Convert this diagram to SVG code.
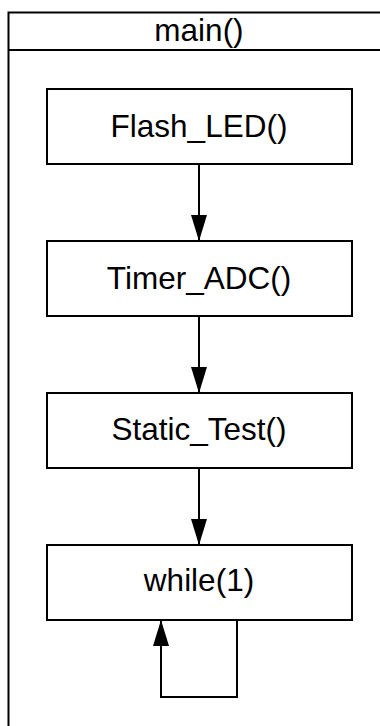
<svg xmlns="http://www.w3.org/2000/svg" width="380" height="726" viewBox="0 0 380 726">
  <style>
    .frame { fill: #ffffff; stroke: #000000; stroke-width: 2; }
    .box { fill: #ffffff; stroke: #000000; stroke-width: 2; }
    .edge { fill: none; stroke: #000000; stroke-width: 2; }
    .label { font-family: "Liberation Sans", Arial, sans-serif; font-size: 31.5px; fill: #000000; text-anchor: middle; }
  </style>
  <defs>
    <marker id="head" viewBox="0 0 26 16" refX="26" refY="8" markerWidth="26" markerHeight="16" markerUnits="userSpaceOnUse" orient="auto">
      <path d="M0,0 L26,8 L0,16 Z" fill="#000000"/>
    </marker>
  </defs>

  <!-- enclosing function frame -->
  <g id="main">
    <rect class="frame" x="8.5" y="12.5" width="380" height="730"/>
    <line class="edge" x1="8.5" y1="50" x2="390" y2="50"/>
    <text class="label" x="199" y="41">main()</text>
  </g>

  <g id="flash_led">
    <rect class="box" x="47" y="89" width="305" height="75"/>
    <text class="label" x="199" y="136.5">Flash_LED()</text>
  </g>

  <g id="timer_adc">
    <rect class="box" x="47" y="241" width="305" height="75"/>
    <text class="label" x="199" y="288.5">Timer_ADC()</text>
  </g>

  <g id="static_test">
    <rect class="box" x="47" y="393" width="305" height="75"/>
    <text class="label" x="199" y="440">Static_Test()</text>
  </g>

  <g id="while_loop">
    <rect class="box" x="47" y="545" width="305" height="75"/>
    <text class="label" x="199" y="590.5">while(1)</text>
  </g>

  <g id="connectors">
    <line class="edge" x1="199" y1="164" x2="199" y2="241" marker-end="url(#head)"/>
    <line class="edge" x1="199" y1="316" x2="199" y2="393" marker-end="url(#head)"/>
    <line class="edge" x1="199" y1="468" x2="199" y2="545" marker-end="url(#head)"/>
    <polyline class="edge" points="237,620 237,697 161,697 161,620" marker-end="url(#head)"/>
  </g>
</svg>
